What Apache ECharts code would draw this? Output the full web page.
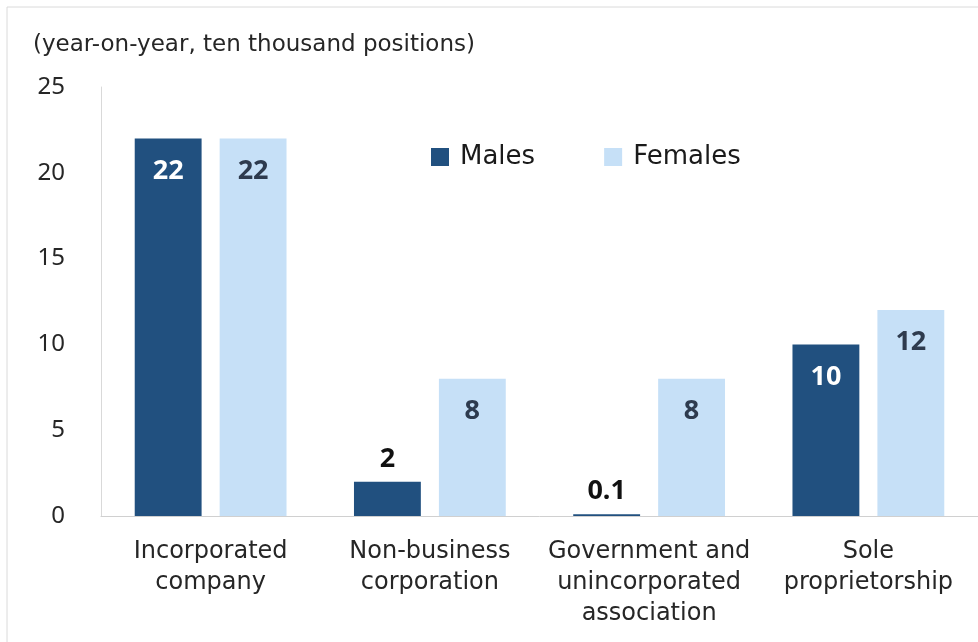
<!DOCTYPE html>
<html>
<head>
<meta charset="utf-8">
<script src="https://cdn.jsdelivr.net/npm/echarts@6/dist/echarts.min.js"></script>
<style>
  html, body { margin: 0; padding: 0; background: #fff; }
  #chart { width: 978px; height: 642px; }
</style>
</head>
<body>
<div id="chart"></div>
<script>
const categories = [
  'Incorporated\ncompany',
  'Non-business\ncorporation',
  'Government and\nunincorporated\nassociation',
  'Sole\nproprietorship'
];
const males = [22, 2, 0.1, 10];
const females = [22, 8, 8, 12];
const yTicks = [0, 5, 10, 15, 20, 25];
const unitLabel = '(year-on-year, ten thousand positions)';

const maleColor = '#21507F';
const femaleColor = '#C6E0F7';

// small bars get their label above the bar, the rest inside near the top
const labelFor = (v, insideColor) => v < 5
  ? { position: 'top', distance: 9, color: '#111' }
  : { position: 'insideTop', distance: 19, color: insideColor };

const chart = echarts.init(document.getElementById('chart'));
const option = {
  animation: false,
  graphic: [{
    type: 'rect',
    shape: { x: 7, y: 7, width: 990, height: 660 },
    style: { fill: 'none', stroke: '#DADADA', lineWidth: 1 },
    silent: true
  }],
  title: {
    text: unitLabel,
    left: 28,
    top: 29,
    textStyle: { fontFamily: 'DejaVu Sans', fontSize: 23, fontWeight: 'normal', color: '#262626' }
  },
  legend: {
    data: ['Males', 'Females'],
    left: 426,
    top: 139,
    icon: 'rect',
    itemWidth: 18,
    itemHeight: 18,
    itemGap: 69,
    textStyle: { fontFamily: 'DejaVu Sans', fontSize: 26, color: '#1a1a1a', padding: [0, 0, 0, 6] }
  },
  grid: { left: 101, top: 87, width: 879, bottom: 126, containLabel: false },
  xAxis: {
    type: 'category',
    data: categories,
    axisLine: { lineStyle: { color: '#D0D0D0', width: 1 } },
    axisTick: { show: false },
    axisLabel: {
      interval: 0,
      margin: 20,
      fontFamily: 'DejaVu Sans',
      fontSize: 24,
      lineHeight: 31,
      color: '#262626'
    }
  },
  yAxis: {
    type: 'value',
    min: yTicks[0],
    max: yTicks[yTicks.length - 1],
    interval: 5,
    splitLine: { show: false },
    axisLine: { show: true, lineStyle: { color: '#D9D9D9', width: 1 } },
    axisTick: { show: false },
    axisLabel: { margin: 36, fontFamily: 'Noto Sans', fontSize: 24, color: '#262626' }
  },
  series: [
    {
      name: 'Males',
      type: 'bar',
      barWidth: '30.5%',
      barGap: '27%',
      itemStyle: { color: maleColor },
      label: { show: true, fontFamily: 'Noto Sans', fontWeight: 'bold', fontSize: 27 },
      data: males.map(v => ({ value: v, label: labelFor(v, '#ffffff') }))
    },
    {
      name: 'Females',
      type: 'bar',
      barWidth: '30.5%',
      itemStyle: { color: femaleColor },
      label: { show: true, fontFamily: 'Noto Sans', fontWeight: 'bold', fontSize: 27 },
      data: females.map(v => ({ value: v, label: labelFor(v, '#2E3B4E') }))
    }
  ]
};
option && chart.setOption(option);
</script>
</body>
</html>
